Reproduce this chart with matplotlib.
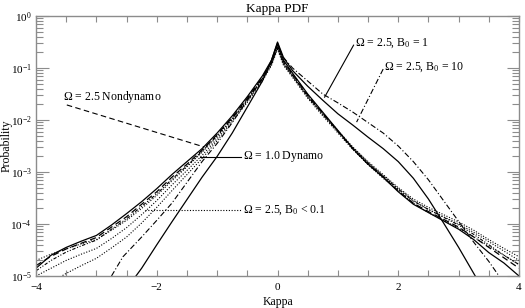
import numpy as np
import matplotlib
matplotlib.use('Agg')
import matplotlib.pyplot as plt
from matplotlib.ticker import FixedLocator, LogLocator, FuncFormatter, NullFormatter

plt.rcParams['font.family'] = ['Liberation Serif', 'DejaVu Serif']
plt.rcParams['mathtext.fontset'] = 'custom'
plt.rcParams['mathtext.rm'] = 'Liberation Serif'
plt.rcParams['mathtext.it'] = 'Liberation Serif:italic'

# Kappa grid shared by the group curves
kappa = [-4, -3.75, -3.5, -3.25, -3, -2.75, -2.5, -2.25, -2, -1.75, -1.5, -1.25,
         -1, -0.75, -0.5, -0.25, -0.1, 0, 0.1, 0.25, 0.5, 0.75, 1, 1.25, 1.5,
         1.75, 2, 2.25, 2.5, 2.75, 3, 3.25, 3.5, 3.75, 4]

# log10(probability)
dynamo_log = [-4.85, -4.6, -4.45, -4.33, -4.22, -4.02, -3.8, -3.57, -3.32, -3.05, -2.8, -2.55,
              -2.25, -1.92, -1.55, -1.15, -0.85, -0.52, -0.85, -1.1, -1.5, -1.85, -2.2, -2.55, -2.85,
              -3.1, -3.38, -3.62, -3.78, -3.94, -4.1, -4.3, -4.55, -4.75, -5.0]
nondyn_log = [-4.8, -4.62, -4.48, -4.37, -4.26, -4.06, -3.86, -3.62, -3.38, -3.1, -2.85, -2.58,
              -2.28, -1.95, -1.58, -1.18, -0.88, -0.55, -0.88, -1.12, -1.52, -1.87, -2.22, -2.56, -2.85,
              -3.1, -3.36, -3.6, -3.76, -3.91, -4.06, -4.25, -4.45, -4.65, -4.85]
group_dd_log = [-4.9, -4.7, -4.54, -4.42, -4.31, -4.1, -3.9, -3.66, -3.42, -3.14, -2.88, -2.6,
                -2.3, -1.97, -1.6, -1.2, -0.9, -0.57, -0.9, -1.14, -1.54, -1.88, -2.22, -2.55, -2.83,
                -3.08, -3.33, -3.56, -3.72, -3.87, -4.02, -4.2, -4.4, -4.6, -4.78]
b01_log = [-4.7, -4.58, -4.48, -4.38, -4.3, -4.12, -3.93, -3.7, -3.45, -3.17, -2.9, -2.62,
           -2.32, -1.98, -1.62, -1.22, -0.92, -0.6, -0.92, -1.15, -1.55, -1.88, -2.2, -2.52, -2.8,
           -3.05, -3.3, -3.52, -3.68, -3.82, -3.96, -4.12, -4.3, -4.47, -4.63]
dot2_log = [-5.0, -4.85, -4.7, -4.58, -4.47, -4.28, -4.07, -3.82, -3.55, -3.25, -2.97, -2.68,
            -2.36, -2.0, -1.63, -1.23, -0.93, -0.62, -0.93, -1.16, -1.56, -1.9, -2.22, -2.54, -2.82,
            -3.07, -3.32, -3.55, -3.72, -3.86, -4.0, -4.16, -4.34, -4.52, -4.7]
dot3_log = [-5.45, -5.12, -4.95, -4.8, -4.66, -4.46, -4.25, -3.98, -3.68, -3.36, -3.05, -2.74,
            -2.4, -2.03, -1.66, -1.25, -0.95, -0.64, -0.95, -1.18, -1.58, -1.92, -2.25, -2.57, -2.86,
            -3.12, -3.36, -3.6, -3.78, -3.93, -4.08, -4.25, -4.43, -4.6, -4.78]

# Omega = 2.5, B0 = 1 (narrow core)
b1_kappa = [-2.37, -2.25, -2, -1.75, -1.5, -1.25, -1, -0.75, -0.5, -0.25, -0.1, 0,
            0.1, 0.25, 0.5, 0.75, 1, 1.25, 1.5, 1.75, 2, 2.25, 2.5, 2.75, 3, 3.25, 3.3]
b1_log = [-5.04, -4.85, -4.4, -3.96, -3.53, -3.1, -2.7, -2.25, -1.75, -1.25, -0.85, -0.5,
          -0.8, -1.05, -1.35, -1.62, -1.88, -2.1, -2.33, -2.55, -2.8, -3.12, -3.52, -3.98, -4.45, -4.95, -5.05]

# Omega = 2.5, B0 = 10
b10_kappa = [-2.75, -2.56, -2.25, -2, -1.75, -1.5, -1.25, -1, -0.75, -0.5, -0.25, -0.1, 0,
             0.1, 0.25, 0.5, 0.75, 1, 1.25, 1.5, 1.75, 2, 2.25, 2.5, 2.75, 3, 3.25, 3.5, 3.68]
b10_log = [-5.0, -4.63, -4.25, -3.93, -3.6, -3.2, -2.8, -2.45, -2.05, -1.62, -1.2, -0.87, -0.55,
           -0.8, -1.0, -1.25, -1.5, -1.67, -1.85, -2.05, -2.25, -2.5, -2.8, -3.15, -3.55, -3.95, -4.35, -4.72, -5.02]

fig = plt.figure(figsize=(5.25, 3.08), dpi=100)
ax = fig.add_axes([0.0686, 0.1039, 0.92, 0.844])

def p(v):
    return 10.0 ** np.array(v)

ax.plot(kappa, p(dynamo_log), color='black', lw=0.9, ls='-')
ax.plot(kappa, p(nondyn_log), color='black', lw=0.9, ls=(0, (5, 3)))
ax.plot(kappa, p(group_dd_log), color='black', lw=0.8, ls=(0, (3, 1.5, 1, 1.5, 1, 1.5)))
ax.plot(kappa, p(b01_log), color='black', lw=0.8, ls=(0, (1, 1.5)))
ax.plot(kappa, p(dot2_log), color='black', lw=0.8, ls=(0, (1, 1.5)))
ax.plot(kappa, p(dot3_log), color='black', lw=0.8, ls=(0, (1, 1.5)))
ax.plot(b1_kappa, p(b1_log), color='black', lw=0.9, ls='-')
ax.plot(b10_kappa, p(b10_log), color='black', lw=0.8, ls=(0, (5, 2, 1, 2)))

# labels with pointer lines
lab = dict(fontsize=8.5, va='center', ha='left')
ax.plot([-3.49, -1.21], p([-1.71, -2.52]), color='black', lw=0.8, ls=(0, (5, 3)))
ax.text(-3.55, 10 ** -1.55, r'$\Omega$ = 2.5 Nondynamo', **lab)
ax.plot([-1.29, -0.6], p([-2.71, -2.71]), color='black', lw=0.8)
ax.text(-0.57, 10 ** -2.71, r'$\Omega$ = 1.0 Dynamo', **lab)
ax.plot([-2.2, -0.6], p([-3.73, -3.73]), color='black', lw=0.8, ls=(0, (1, 1.5)))
ax.text(-0.57, 10 ** -3.73, r'$\Omega$ = 2.5, B$_0$ < 0.1', **lab)
ax.plot([1.26, 0.78], p([-0.56, -1.56]), color='black', lw=0.8)
ax.text(1.28, 10 ** -0.52, r'$\Omega$ = 2.5, B$_0$ = 1', **lab)
ax.plot([1.75, 1.31], p([-1.02, -2.04]), color='black', lw=0.8, ls=(0, (5, 2, 1, 2)))
ax.text(1.77, 10 ** -0.98, r'$\Omega$ = 2.5, B$_0$ = 10', **lab)

ax.set_yscale('log')
ax.set_xlim(-4, 4)
ax.set_ylim(1e-5, 1)
ax.xaxis.set_major_locator(FixedLocator([-4, -2, 0, 2, 4]))
ax.xaxis.set_minor_locator(FixedLocator(np.arange(-4, 4.01, 0.5)))
ax.xaxis.set_major_formatter(FuncFormatter(lambda v, pos: '%d' % v if v >= 0 else '\u2212%d' % -v))
ax.yaxis.set_major_locator(LogLocator(base=10, numticks=10))
ax.yaxis.set_minor_locator(LogLocator(base=10, subs=np.arange(2, 10), numticks=10))
ax.yaxis.set_minor_formatter(NullFormatter())
ax.yaxis.set_major_formatter(FuncFormatter(lambda v, pos: r'$\mathregular{10^{%d}}$' % round(np.log10(v))))

gray = '#8c8c8c'
for s in ax.spines.values():
    s.set_color(gray)
    s.set_linewidth(1.0)
ax.tick_params(which='both', direction='in', top=True, right=True, colors=gray,
               labelcolor='black', labelsize=8, width=0.8)
ax.tick_params(axis='y', which='major', length=9, pad=3)
ax.tick_params(axis='y', which='minor', length=5)
ax.tick_params(axis='x', which='major', length=4, pad=5)
ax.tick_params(axis='x', which='minor', length=4)

ax.set_title('Kappa PDF', fontsize=9.5, pad=3)
ax.set_xlabel('Kappa', fontsize=8.5)
ax.set_ylabel('Probability', fontsize=8.5)
ax.xaxis.set_label_coords(0.5, -0.078)
ax.yaxis.set_label_coords(-0.048, 0.5)

fig.savefig('out.png', dpi=100)
